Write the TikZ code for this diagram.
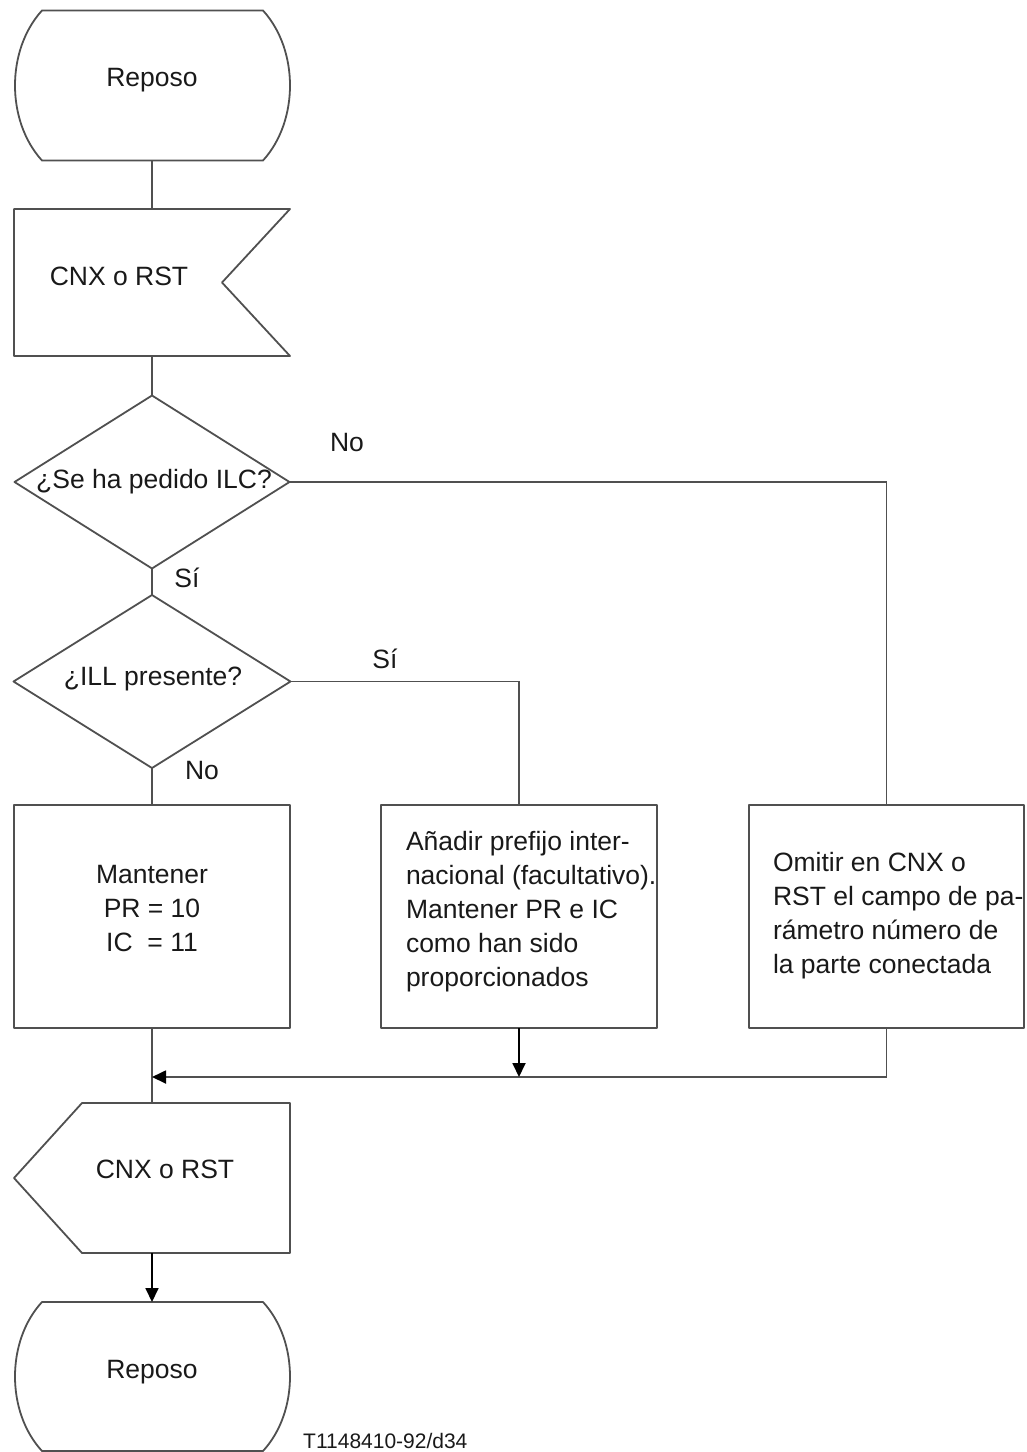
\documentclass[tikz,border=0pt]{standalone}
\usepackage{fontspec}
\setmainfont{Liberation Sans}
\usetikzlibrary{arrows.meta,shapes.geometric,calc}
\definecolor{ln}{RGB}{80,80,80}
\definecolor{tx}{RGB}{25,25,25}
\begin{document}
\begin{tikzpicture}[x=1pt,y=-1pt,
  shp/.style={draw=ln,line width=1.8pt,line join=round},
  box/.style={shp,rectangle,minimum width=276pt,minimum height=223pt,inner sep=0,outer sep=0},
  dia/.style={shp,diamond,minimum width=275pt,minimum height=173pt,inner sep=0,outer sep=0},
  conn/.style={draw=ln,line width=1.8pt},
  arr/.style={conn,-{Triangle[length=14pt,width=13pt,color=black]}},
  txt/.style={text=tx,font=\fontsize{26.5}{34}\selectfont,inner sep=0,outer sep=0},
  lbl/.style={txt}]
\useasboundingbox (0,0) rectangle (1027,1452);
% state Reposo (top)
\node[minimum width=276pt,minimum height=150pt,inner sep=0,outer sep=0] (rep1) at (152,85.5) {};
\draw[shp] (42,10.5) -- (263,10.5) .. controls (299,50) and (299,121) .. (263,160.5) -- (42,160.5) .. controls (6,121) and (6,50) .. cycle;
\node[txt] (rep1t) at (152,80) {Reposo};
% input signal
\node[minimum width=276pt,minimum height=147pt,inner sep=0,outer sep=0] (in) at (152,282.5) {};
\draw[shp] (in.north west) -- (in.north east) -- ($(in.east)+(-68,0)$) -- (in.south east) -- (in.south west) -- cycle;
\node[txt] (int) at (119,276) {CNX o RST};
% decisions
\node[dia] (d1) at (152,482) {};
\node[txt] (d1t) at (154,482) {¿Se ha pedido ILC?};
\node[dia,minimum width=277pt] (d2) at (152,681.5) {};
\node[txt] (d2t) at (153,679) {¿ILL presente?};
% tasks
\node[box] (b1) at (152,916.5) {};
\node[txt,align=center] (b1t) at (152,908) {Mantener\\PR = 10\\IC\ \ = 11};
\node[box] (b2) at (519,916.5) {};
\node[txt,align=left,anchor=west] (b2t) at (406,912) {Añadir prefijo inter-\\nacional (facultativo).\\Mantener PR e IC\\como han sido\\proporcionados};
\node[box,minimum width=275pt] (b3) at (886.5,916.5) {};
\node[txt,align=left,anchor=west] (b3t) at (773,916) {Omitir en CNX o\\RST el campo de pa-\\rámetro número de\\la parte conectada};
% output signal
\node[minimum width=276pt,minimum height=150pt,inner sep=0,outer sep=0] (out) at (152,1178) {};
\draw[shp] ($(out.north west)+(68,0)$) -- (out.north east) -- (out.south east) -- ($(out.south west)+(68,0)$) -- (out.west) -- cycle;
\node[txt] (outt) at (165,1169) {CNX o RST};
% state Reposo (bottom)
\node[minimum width=276pt,minimum height=149pt,inner sep=0,outer sep=0] (rep2) at (152,1376.5) {};
\draw[shp] (42,1302) -- (263,1302) .. controls (299,1341) and (299,1412) .. (263,1451) -- (42,1451) .. controls (6,1412) and (6,1341) .. cycle;
\node[txt] (rep2t) at (152,1372) {Reposo};
% connectors
\coordinate (m) at (152,1077);
\draw[conn] (rep1.south) -- (in.north);
\draw[conn] (in.south) -- (d1.north);
\draw[conn] (d1.south) -- (d2.north);
\draw[conn] (d1.east) -| (b3.north);
\draw[conn] (d2.east) -| (b2.north);
\draw[conn] (d2.south) -- (b1.north);
\draw[conn] (b1.south) -- (out.north);
\draw[arr] (b3.south) |- (m);
\draw[arr,draw=black] (b2.south) -- (b2.south |- m);
\draw[arr,draw=black] (out.south) -- (rep2.north);
% labels
\node[lbl] (l1) at (347,443) {No};
\node[lbl] (l2) at (187,578) {Sí};
\node[lbl] (l3) at (385,659) {Sí};
\node[lbl] (l4) at (202,771) {No};
\node[text=tx,font=\fontsize{21}{24}\selectfont,anchor=west,inner sep=0] (ref) at (303,1441) {T1148410-92/d34};
\end{tikzpicture}
\end{document}
